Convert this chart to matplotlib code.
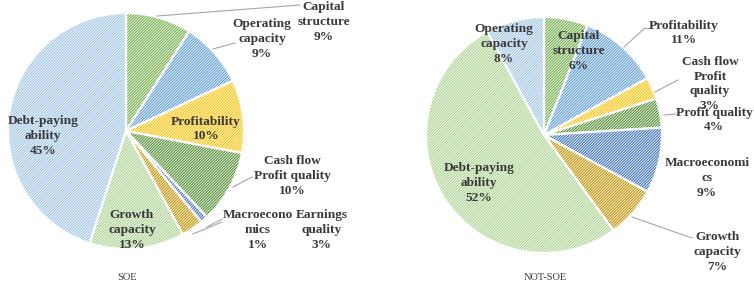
import matplotlib
matplotlib.use("Agg")
import matplotlib.pyplot as plt

plt.rcParams['hatch.linewidth'] = 0.6
plt.rcParams['font.family'] = ['Liberation Serif', 'DejaVu Serif']

# Data
soe_labels = ["Capital\nstructure", "Operating\ncapacity", "Profitability", "Cash flow\nProfit quality",
              "Macroecono\nmics", "Earnings\nquality", "Growth\ncapacity", "Debt-paying\nability"]
soe_values = [9, 9, 10, 10, 1, 3, 13, 45]

nsoe_labels = ["Capital\nstructure", "Profitability", "Cash flow\nProfit\nquality", "Profit quality",
               "Macroeconomi\ncs", "Growth\ncapacity", "Debt-paying\nability", "Operating\ncapacity"]
nsoe_values = [6, 11, 3, 4, 9, 7, 52, 8]

colors = ["#70ad47", "#5b9bd5", "#ffc000", "#4e8a2e", "#3b6fb6", "#bf9000", "#a9d18e", "#9dc3e6"]

W, H = 754, 283
fig = plt.figure(figsize=(W / 100, H / 100), dpi=100)
ax = fig.add_axes([0, 0, 1, 1])

def Y(py):
    return H - py

def draw_pie(values, center, radius):
    wedges, _ = ax.pie(values, colors=colors, startangle=90, counterclock=False,
                       center=center, radius=radius, frame=True,
                       wedgeprops=dict(edgecolor='white', linewidth=1.6, hatch='/' * 12))
    return wedges

draw_pie(soe_values, (126, Y(131)), 118)
draw_pie(nsoe_values, (544, Y(135)), 118)
ax.set_xlim(0, W)
ax.set_ylim(0, H)
ax.set_aspect('auto')
ax.axis('off')

tc = '#3a3a3a'
fs = 9.6
def lab(txt, x, y, ha='center'):
    ax.text(x, Y(y), txt, ha=ha, va='center', fontsize=fs, fontweight='bold',
            color=tc, linespacing=1.28)

def line(x0, y0, x1, y1):
    ax.plot([x0, x1], [Y(y0), Y(y1)], color='#a6a6a6', lw=0.8)

# SOE labels
lab(soe_labels[0] + "\n%d%%" % soe_values[0], 324, 22)
line(157, 16, 300, 5)
lab(soe_labels[1] + "\n%d%%" % soe_values[1], 262, 39)
line(213, 49, 235, 43)
lab(soe_labels[2] + "\n%d%%" % soe_values[2], 206, 129)
lab(soe_labels[3] + "\n%d%%" % soe_values[3], 292, 176)
line(233, 187, 252, 177)
lab(soe_labels[4] + "\n%d%%" % soe_values[4], 258, 230)
line(207, 227, 222, 219)
lab(soe_labels[5] + "\n%d%%" % soe_values[5], 322, 230)
line(193, 234, 222, 222)
lab(soe_labels[6] + "\n%d%%" % soe_values[6], 132, 230)
lab(soe_labels[7] + "\n%d%%" % soe_values[7], 43, 136)
ax.text(127, Y(277), "SOE", ha='center', va='center', fontsize=7.5, color=tc)

# NOT-SOE labels
lab(nsoe_labels[0] + "\n%d%%" % nsoe_values[0], 579, 51)
lab(nsoe_labels[1] + "\n%d%%" % nsoe_values[1], 684, 33)
line(624, 47, 645, 28)
line(645, 28, 650, 28)
lab(nsoe_labels[2] + "\n%d%%" % nsoe_values[2], 710, 84)
line(655, 92, 678, 80)
lab(nsoe_labels[3] + "\n%d%%" % nsoe_values[3], 714, 120)
line(664, 115, 676, 114)
lab(nsoe_labels[4] + "\n%d%%" % nsoe_values[4], 707, 178)
lab(nsoe_labels[5] + "\n%d%%" % nsoe_values[5], 717, 252)
line(632, 217, 692, 238)
lab(nsoe_labels[6] + "\n%d%%" % nsoe_values[6], 479, 183)
lab(nsoe_labels[7] + "\n%d%%" % nsoe_values[7], 504, 44)
ax.text(545, Y(277), "NOT-SOE", ha='center', va='center', fontsize=7.5, color=tc)

fig.savefig("out.png", dpi=100)
